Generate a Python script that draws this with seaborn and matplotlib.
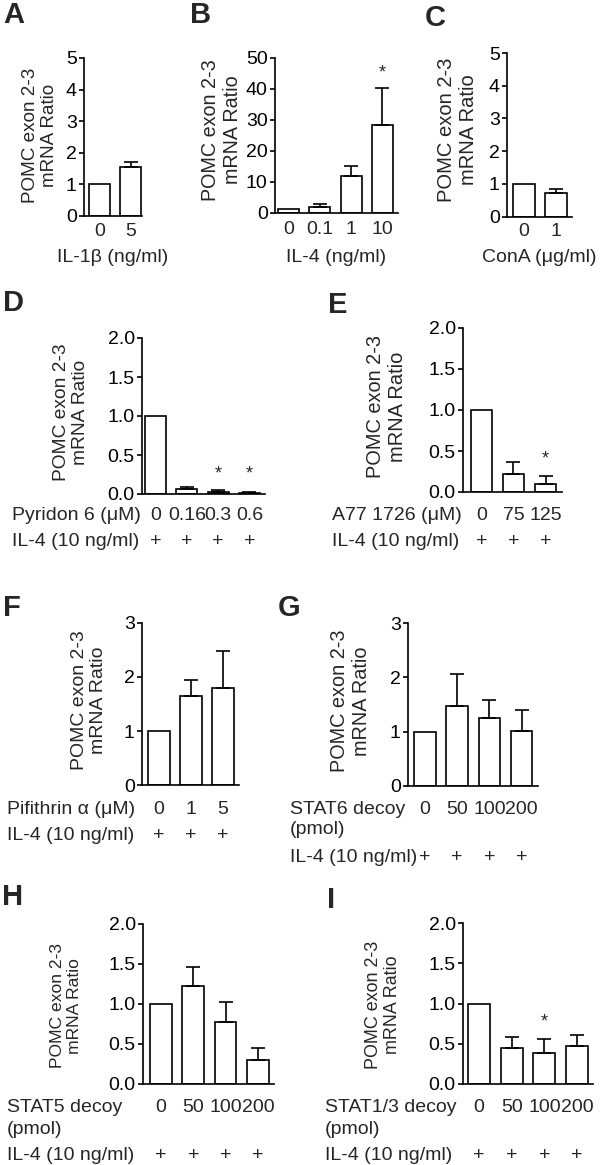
import matplotlib
matplotlib.use("Agg")
import matplotlib.pyplot as plt
import seaborn as sns
import numpy as np
from matplotlib.transforms import blended_transform_factory

# ---------------- data ----------------
A_cats = ["0", "5"]
A_mean = [1.0, 1.55]
A_sem = [0.0, 0.15]
A_sig = [False, False]

B_cats = ["0", "0.1", "1", "10"]
B_mean = [1.0, 1.7, 11.7, 28.3]
B_sem = [0.0, 0.9, 3.5, 11.9]
B_sig = [False, False, False, True]

C_cats = ["0", "1"]
C_mean = [1.0, 0.72]
C_sem = [0.0, 0.11]
C_sig = [False, False]

D_cats = ["0", "0.16", "0.3", "0.6"]
D_mean = [1.0, 0.06, 0.03, 0.015]
D_sem = [0.0, 0.035, 0.025, 0.01]
D_sig = [False, False, True, True]

E_cats = ["0", "75", "125"]
E_mean = [1.0, 0.22, 0.10]
E_sem = [0.0, 0.14, 0.095]
E_sig = [False, False, True]

F_cats = ["0", "1", "5"]
F_mean = [1.0, 1.65, 1.80]
F_sem = [0.0, 0.29, 0.69]
F_sig = [False, False, False]

G_cats = ["0", "50", "100", "200"]
G_mean = [1.0, 1.48, 1.25, 1.02]
G_sem = [0.0, 0.58, 0.33, 0.38]
G_sig = [False, False, False, False]

H_cats = ["0", "50", "100", "200"]
H_mean = [1.0, 1.23, 0.77, 0.30]
H_sem = [0.0, 0.23, 0.26, 0.15]
H_sig = [False, False, False, False]

I_cats = ["0", "50", "100", "200"]
I_mean = [1.0, 0.45, 0.39, 0.47]
I_sem = [0.0, 0.14, 0.17, 0.14]
I_sig = [False, False, True, False]

Y_LABEL = "POMC exon 2-3\nmRNA Ratio"
A_xlabel = "IL-1β (ng/ml)"
B_xlabel = "IL-4 (ng/ml)"
C_xlabel = "ConA (μg/ml)"
D_rows = ["Pyridon 6 (μM)", "IL-4 (10 ng/ml)"]
E_rows = ["A77 1726 (μM)", "IL-4 (10 ng/ml)"]
F_rows = ["Pifithrin α (μM)", "IL-4 (10 ng/ml)"]
G_rows = ["STAT6 decoy", "(pmol)", "IL-4 (10 ng/ml)"]
H_rows = ["STAT5 decoy", "(pmol)", "IL-4 (10 ng/ml)"]
I_rows = ["STAT1/3 decoy", "(pmol)", "IL-4 (10 ng/ml)"]

A_yticks = [0, 1, 2, 3, 4, 5]
B_yticks = [0, 10, 20, 30, 40, 50]
C_yticks = [0, 1, 2, 3, 4, 5]
D_yticks = [0.0, 0.5, 1.0, 1.5, 2.0]
F_yticks = [0, 1, 2, 3]

# ---------------- style ----------------
sns.set_theme(style="ticks")
plt.rcParams['font.family'] = ['Liberation Sans', 'DejaVu Sans']
plt.rcParams['axes.linewidth'] = 1.1

W, H = 600, 1165
fig = plt.figure(figsize=(W / 100, H / 100), dpi=100)
FS = 14
LW = 1.2


def fy(py):
    return 1 - py / H


def panel(cats, mean, sem, sig, yticks, fmt, L, R, T, B, c0, s, ylab_c, ylab_fs,
          letter, letter_xy, star_y=None):
    ax = fig.add_axes([L / W, 1 - B / H, (R - L) / W, (B - T) / H])
    sns.barplot(x=cats, y=mean, order=cats, ax=ax, color="white", saturation=1,
                edgecolor="black", linewidth=LW, width=0.67, errorbar=None)
    idx = [i for i, e in enumerate(sem) if e > 0]
    ax.errorbar([i for i in idx], [mean[i] for i in idx],
                yerr=[[0] * len(idx), [sem[i] for i in idx]],
                fmt="none", ecolor="black", elinewidth=LW, capsize=4.7, capthick=LW)
    ax.set_xlim((L - c0) / s, (R - c0) / s)
    ax.set_ylim(0, yticks[-1])
    ax.set_yticks(yticks)
    ax.set_yticklabels([fmt.format(v) for v in yticks], fontsize=FS)
    ax.tick_params(axis="y", length=3.8, width=LW, pad=1.5, colors="black")
    ax.tick_params(axis="x", length=0)
    for sp in ax.spines.values():
        sp.set_color("black")
        sp.set_linewidth(LW)
    sns.despine(ax=ax)
    ax.set_ylabel(Y_LABEL, fontsize=ylab_fs, linespacing=1.2, va="center", ha="center")
    ax.yaxis.set_label_coords((ylab_c[0] - L) / (R - L), (B - ylab_c[1]) / (B - T))
    ax.set_xlabel("")
    fig.text(letter_xy[0] / W, fy(letter_xy[1]), letter, fontsize=21, fontweight="bold",
             ha="left", va="top")
    tr = blended_transform_factory(ax.transData, fig.transFigure)
    if star_y is not None:
        for i, sg in enumerate(sig):
            if sg:
                ax.text(i, fy(star_y), "*", transform=tr, ha="center", va="center",
                        fontsize=13)
    return ax, tr


def top_labels(ax, tr, cats, xlabel, tick_y, label_y):
    ax.set_xticks(range(len(cats)))
    ax.set_xticklabels([])
    for i, c in enumerate(cats):
        ax.text(i, fy(tick_y), c, transform=tr, ha="center", va="center", fontsize=FS)
    ax.text(0.5, fy(label_y), xlabel, transform=blended_transform_factory(ax.transAxes, fig.transFigure),
            ha="center", va="center", fontsize=FS)


def row_labels(ax, tr, cats, rows, x0, ys, plus_y):
    ax.set_xticks(range(len(cats)))
    ax.set_xticklabels([])
    for r, y in zip(rows, ys):
        fig.text(x0 / W, fy(y), r, ha="left", va="center", fontsize=FS)
    for i, c in enumerate(cats):
        ax.text(i, fy(ys[0]), c, transform=tr, ha="center", va="center", fontsize=FS)
        ax.text(i, fy(plus_y), "+", transform=tr, ha="center", va="center", fontsize=FS)


# A
ax, tr = panel(A_cats, A_mean, A_sem, A_sig, A_yticks, "{:d}", 84, 142, 58, 216, 99.5, 31,
               (40, 135), 13.6, "A", (3, 1))
top_labels(ax, tr, A_cats, A_xlabel, 232, 257)
# B
ax, tr = panel(B_cats, B_mean, B_sem, B_sig, B_yticks, "{:d}", 275, 398, 58, 212.5, 288.5, 31.3,
               (221, 130), 14.2, "B", (190, 1), star_y=73)
top_labels(ax, tr, B_cats, B_xlabel, 230, 257)
# C
ax, tr = panel(C_cats, C_mean, C_sem, C_sig, C_yticks, "{:d}", 507, 572, 53, 216.5, 524, 32,
               (457, 130), 14.5, "C", (425, 4))
top_labels(ax, tr, C_cats, C_xlabel, 232, 257)
# D
ax, tr = panel(D_cats, D_mean, D_sem, D_sig, D_yticks, "{:.1f}", 142, 265, 338, 494, 155.5, 31.3,
               (71, 412), 13.8, "D", (3, 289), star_y=474)
row_labels(ax, tr, D_cats, D_rows, 12, [515, 542], 542)
# E
ax, tr = panel(E_cats, E_mean, E_sem, E_sig, D_yticks, "{:.1f}", 463, 562, 328, 492, 481.3, 32.1,
               (387, 407), 14.4, "E", (328, 291), star_y=459)
row_labels(ax, tr, E_cats, E_rows, 332, [515, 542], 542)
# F
ax, tr = panel(F_cats, F_mean, F_sem, F_sig, F_yticks, "{:d}", 142, 239, 623, 785, 158.8, 32,
               (89, 700), 14.0, "F", (3, 594))
row_labels(ax, tr, F_cats, F_rows, 7, [810, 835], 835)
# G
ax, tr = panel(G_cats, G_mean, G_sem, G_sig, F_yticks, "{:d}", 408, 538, 623, 786, 425, 32.2,
               (350, 701), 14.3, "G", (278, 594))
row_labels(ax, tr, G_cats, G_rows, 290, [810, 830, 857], 857)
# H
ax, tr = panel(H_cats, H_mean, H_sem, H_sig, D_yticks, "{:.1f}", 143, 274, 924, 1084, 161, 32.3,
               (66, 1006), 12.6, "H", (2, 883))
row_labels(ax, tr, H_cats, H_rows, 7, [1107, 1129, 1155], 1155)
# I
ax, tr = panel(I_cats, I_mean, I_sem, I_sig, D_yticks, "{:.1f}", 463, 593, 923, 1084, 479, 32.7,
               (383, 1005), 12.9, "I", (327, 886), star_y=1022)
row_labels(ax, tr, I_cats, I_rows, 325, [1107, 1129, 1155], 1155)

fig.savefig("out.png", dpi=100, facecolor="white")
